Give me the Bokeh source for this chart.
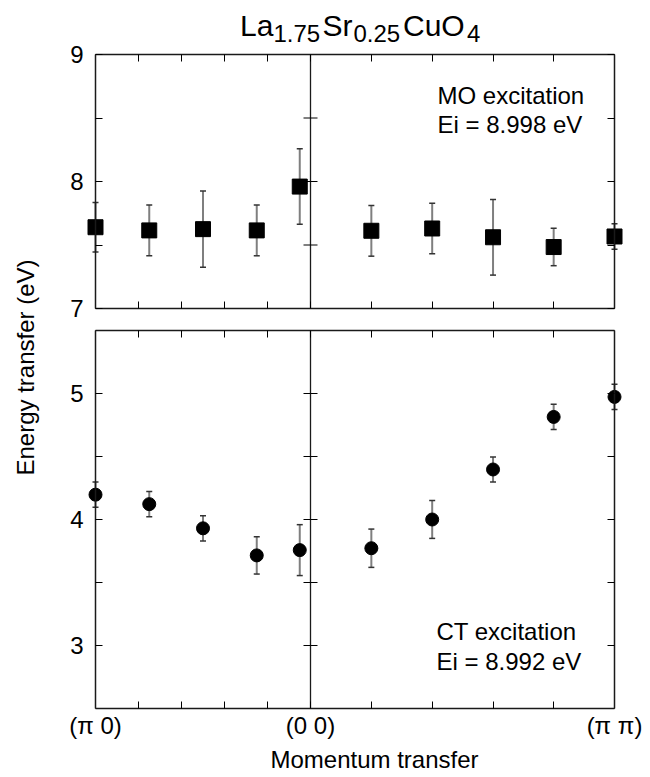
import math
from bokeh.plotting import figure
from bokeh.models import (Range1d, LinearAxis, FixedTicker, Whisker, TeeHead,
                          ColumnDataSource, Label)
from bokeh.core.properties import value
from bokeh.layouts import row, column
from bokeh.embed import file_html
from bokeh.resources import INLINE

# ---------------- data ----------------
# momentum path coordinate (units of pi): 0 = (pi 0), 1 = (0 0), 2.414 = (pi pi)
q_pts = [0.0, 0.25, 0.5, 0.75, 0.95, 1.283, 1.566, 1.849, 2.131, 2.414]

mo_energy = [7.64, 7.615, 7.625, 7.615, 7.96, 7.612, 7.63, 7.561, 7.484, 7.567]
mo_err = [0.195, 0.2, 0.3, 0.2, 0.297, 0.2, 0.198, 0.298, 0.147, 0.1]

ct_energy = [4.197, 4.122, 3.93, 3.715, 3.757, 3.772, 4.0, 4.397, 4.814, 4.973]
ct_err = [0.1, 0.1, 0.1, 0.148, 0.202, 0.152, 0.15, 0.1, 0.1, 0.1]

x_major_ticks = [0.0, 1.0, 2.414]
x_minor_ticks = [0.2, 0.4, 0.6, 0.8, 1.283, 1.566, 1.849, 2.131]
x_tick_labels = ["(\u03c0 0)", "(0 0)", "(\u03c0 \u03c0)"]

mo_major_ticks = [7, 8, 9]
mo_minor_ticks = [7.5, 8.5]
ct_major_ticks = [3, 4, 5]
ct_minor_ticks = [3.5, 4.5]

title_parts = ["La", "1.75", "Sr", "0.25", "CuO", "4"]

FONT = "Liberation Sans"
Q_END = 2.414
PXU = 215.0          # pixels per unit of momentum coordinate
X0_ABS = 95.0        # absolute pixel of (pi 0)
SPLIT = 325          # absolute pixel row where top canvas ends


def sx(px):
    return (px - X0_ABS) / PXU


def style_axis(ax, standoff=10):
    ax.axis_line_color = "#1a1a1a"
    ax.axis_line_width = 1.5
    ax.major_tick_in = 7
    ax.major_tick_out = 0
    ax.minor_tick_in = 7
    ax.minor_tick_out = 0
    ax.major_tick_line_color = "black"
    ax.minor_tick_line_color = "black"
    ax.major_tick_line_width = 1
    ax.minor_tick_line_width = 1
    ax.major_label_text_font = FONT
    ax.major_label_text_color = "black"
    ax.major_label_text_font_size = "24px"
    ax.major_label_standoff = standoff


def panel(height, ylo, yhi, yrange, ymaj, ymin, xlabels):
    # frame covers the whole canvas; the panel box is drawn by fixed-location axes
    p = figure(width=600, height=height,
               x_range=Range1d(sx(50), sx(650)), y_range=Range1d(*yrange),
               output_backend="svg", toolbar_location=None,
               x_axis_location=None, y_axis_location=None, min_border=0)
    p.grid.visible = False
    p.outline_line_color = None
    p.background_fill_color = "white"
    p.border_fill_color = "white"

    all_y = sorted(list(ymaj) + list(ymin))
    all_x = sorted(list(x_major_ticks) + list(x_minor_ticks))

    left = LinearAxis(fixed_location=0.0, bounds=(ylo, yhi),
                      ticker=FixedTicker(ticks=ymaj, minor_ticks=ymin))
    style_axis(left, standoff=12)
    p.add_layout(left, "left")

    right = LinearAxis(fixed_location=Q_END, bounds=(ylo, yhi),
                       ticker=FixedTicker(ticks=[], minor_ticks=all_y))
    style_axis(right)
    p.add_layout(right, "right")

    top = LinearAxis(fixed_location=yhi, bounds=(0, Q_END),
                     ticker=FixedTicker(ticks=[], minor_ticks=all_x))
    style_axis(top)
    p.add_layout(top, "above")

    if xlabels:
        bottom = LinearAxis(fixed_location=ylo, bounds=(0, Q_END),
                            ticker=FixedTicker(ticks=x_major_ticks, minor_ticks=x_minor_ticks))
        bottom.major_label_overrides = dict(zip(x_major_ticks, x_tick_labels))
        style_axis(bottom, standoff=3)
    else:
        bottom = LinearAxis(fixed_location=ylo, bounds=(0, Q_END),
                            ticker=FixedTicker(ticks=[], minor_ticks=all_x))
        style_axis(bottom)
    p.add_layout(bottom, "below")

    # divider at (0 0) with ticks on both sides
    p.segment(x0=[1.0], y0=[ylo], x1=[1.0], y1=[yhi], line_color="#1a1a1a", line_width=1.3)
    mid = all_y
    p.ray(x=[1.0] * len(mid), y=mid, length=7, length_units="screen", angle=0,
          line_color="black", line_width=1)
    p.ray(x=[1.0] * len(mid), y=mid, length=7, length_units="screen", angle=math.pi,
          line_color="black", line_width=1)
    return p


def add_points(p, energy, err, marker, size):
    src = ColumnDataSource(dict(q=q_pts, e=energy,
                                up=[e + d for e, d in zip(energy, err)],
                                lo=[e - d for e, d in zip(energy, err)]))
    w = Whisker(base="q", upper="up", lower="lo", source=src,
                line_color="#7f7f7f", line_width=2,
                upper_head=TeeHead(size=6, line_color="#333333", line_width=1.5),
                lower_head=TeeHead(size=6, line_color="#333333", line_width=1.5))
    w.level = "underlay"
    p.add_layout(w)
    p.scatter("q", "e", source=src, marker=marker, size=size,
              fill_color="black", line_color="black")


def lbl(p, x, y, text, size="24px", align="left"):
    p.add_layout(Label(x=x, y=y, text=text, text_font=FONT, text_font_size=size,
                       text_color="black", text_align=align,
                       text_baseline="middle"))


# ---------------- top panel (MO excitation) ----------------
# 9 eV at pixel row 54, 127 px per eV
def ty(py):
    return 9 - (py - 54) / 127.0


p1 = panel(SPLIT, 7, 9, (ty(SPLIT), ty(0)), mo_major_ticks, mo_minor_ticks, False)
add_points(p1, mo_energy, mo_err, "square", 15)
lbl(p1, sx(437), ty(94.9), "MO excitation")
lbl(p1, sx(437), ty(124.3), "Ei = 8.998 eV")

title_x = [239.5, 273.0, 322.0, 353.0, 402.5, 466.5]
for i, (t, xx) in enumerate(zip(title_parts, title_x)):
    is_sub = i % 2 == 1
    lbl(p1, sx(xx), ty(33.3) if is_sub else ty(24.5), t, "24px" if is_sub else "30px")


# ---------------- bottom panel (CT excitation) ----------------
# 5.5 eV at pixel row 330, 126 px per eV
def by(py):
    return 5.5 - (py - 330) / 126.0


p2 = panel(777 - SPLIT, 2.5, 5.5, (by(777), by(SPLIT)), ct_major_ticks, ct_minor_ticks, True)
add_points(p2, ct_energy, ct_err, "circle", 13)
lbl(p2, sx(436), by(630.9), "CT excitation")
lbl(p2, sx(436), by(660.6), "Ei = 8.992 eV")
lbl(p2, sx(374), by(759), "Momentum transfer", align="center")

# ---------------- y label strip ----------------
py_ = figure(width=50, height=777, x_range=Range1d(0, 50), y_range=Range1d(0, 777),
             output_backend="svg", toolbar_location=None,
             x_axis_location=None, y_axis_location=None, min_border=0)
py_.grid.visible = False
py_.outline_line_color = None
py_.text(x=[25], y=[777 - 367], text=["Energy transfer (eV)"], angle=math.pi / 2,
         text_font=value(FONT), text_font_size="24px", text_color="black",
         text_align="center", text_baseline="middle")

layout = row(py_, column(p1, p2))
open("out.html", "w").write(file_html(layout, INLINE))
